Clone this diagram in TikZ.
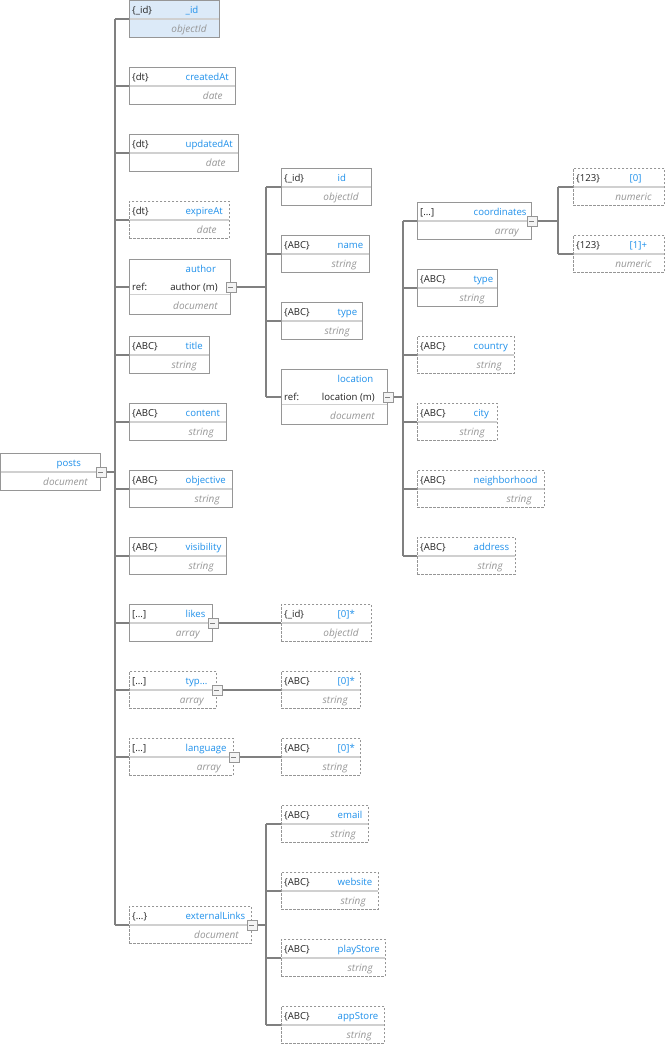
\documentclass[tikz,border=0pt]{standalone}
\usepackage{fontspec}
\setmainfont{Open Sans}
\definecolor{boxc}{RGB}{150,150,150}
\definecolor{divc}{RGB}{208,208,208}
\definecolor{connc}{RGB}{128,128,128}
\definecolor{namec}{RGB}{30,144,235}
\definecolor{typec}{RGB}{150,150,150}
\definecolor{labelc}{RGB}{34,34,34}
\definecolor{idfill}{RGB}{220,234,248}
\definecolor{btnfill}{RGB}{244,244,244}
\tikzset{
  fieldframe/.style={draw=boxc, line width=0.9pt, fill=white, inner sep=0pt},
  opt/.style={dash pattern=on 2.5pt off 1.5pt},
  keyfill/.style={fill=idfill},
  divider/.style={draw=divc, line width=1.4pt},
  lbl/.style={anchor=base west, inner sep=0pt, text=labelc},
  nm/.style={anchor=base west, inner sep=0pt, text=namec},
  tp/.style={anchor=base east, inner sep=0pt, text=typec, font=\itshape},
  reftxt/.style={anchor=base east, inner sep=0pt, text=labelc},
  conn/.style={draw=connc, line width=1.1pt},
  btn/.style={draw=boxc, line width=0.8pt, fill=btnfill, minimum size=10pt, inner sep=0pt,
    path picture={\draw[connc, line width=0.8pt] ([xshift=2.5pt]path picture bounding box.west) -- ([xshift=-2.5pt]path picture bounding box.east);}}
}
\newcommand{\fieldbox}[8]{%
  \pgfmathsetmacro\bw{#5-#3}%
  \node[fieldframe,#2,minimum width=\bw pt,minimum height=37pt,anchor=north west] (#1) at (#3,#4) {};
  \draw[divider] ([yshift=-19pt,xshift=0.6pt]#1.north west) -- ([yshift=-19pt,xshift=-0.6pt]#1.north east);
  \node[lbl] (#1-l) at ([xshift=3pt,yshift=-13.8pt]#1.north west) {#6};
  \node[nm] (#1-n) at ([xshift=56.5pt,yshift=-13.8pt]#1.north west) {#7};
  \node[tp] (#1-t) at ([xshift=-13pt,yshift=5pt]#1.south east) {#8};
}
\newcommand{\refbox}[6]{%
  \pgfmathsetmacro\bw{#4-#2}%
  \node[fieldframe,minimum width=\bw pt,minimum height=55pt,anchor=north west] (#1) at (#2,#3) {};
  \draw[divider] ([yshift=-35.5pt,xshift=0.6pt]#1.north west) -- ([yshift=-35.5pt,xshift=-0.6pt]#1.north east);
  \node[nm] (#1-n) at ([xshift=56.5pt,yshift=-13.8pt]#1.north west) {#5};
  \node[lbl] (#1-l) at ([xshift=3pt,yshift=-31.5pt]#1.north west) {ref:};
  \node[reftxt] (#1-r) at ([xshift=-13pt,yshift=-31.5pt]#1.north east) {#6};
  \node[tp] (#1-t) at ([xshift=-13pt,yshift=5pt]#1.south east) {document};
}
\newcommand{\collapse}[1]{\node[btn] (#1-b) at (#1.east) {};}
\begin{document}
\begin{tikzpicture}[x=1pt,y=-1pt,font=\fontsize{9.6}{11.5}\selectfont]
\useasboundingbox (0,0) rectangle (665,1045);
% level 0
\fieldbox{posts}{}{0}{453}{100}{}{posts}{document}
% level 1
\fieldbox{id0}{keyfill}{129}{0}{219}{\{\_id\}}{\_id}{objectId}
\fieldbox{created}{}{129}{67}{235}{\{dt\}}{createdAt}{date}
\fieldbox{updated}{}{129}{134}{238}{\{dt\}}{updatedAt}{date}
\fieldbox{expire}{opt}{129}{201}{229}{\{dt\}}{expireAt}{date}
\refbox{author}{129}{259}{230}{author}{author (m)}
\fieldbox{title}{}{129}{336}{209}{\{ABC\}}{title}{string}
\fieldbox{content}{}{129}{403}{226}{\{ABC\}}{content}{string}
\fieldbox{objective}{}{129}{470}{232}{\{ABC\}}{objective}{string}
\fieldbox{visibility}{}{129}{537}{226}{\{ABC\}}{visibility}{string}
\fieldbox{likes}{}{129}{604}{212}{[...]}{likes}{array}
\fieldbox{typ}{opt}{129}{671}{216}{[...]}{typ...}{array}
\fieldbox{language}{opt}{129}{738}{233}{[...]}{language}{array}
\fieldbox{ext}{opt}{129}{906}{251}{\{...\}}{externalLinks}{document}
% level 2: author
\fieldbox{aid}{}{281}{168}{371}{\{\_id\}}{id}{objectId}
\fieldbox{aname}{}{281}{235}{369}{\{ABC\}}{name}{string}
\fieldbox{atype}{}{281}{302}{362}{\{ABC\}}{type}{string}
\refbox{loc}{281}{369}{387}{location}{location (m)}
% level 2: arrays
\fieldbox{likes0}{opt}{281}{604}{371}{\{\_id\}}{[0]*}{objectId}
\fieldbox{typ0}{opt}{281}{671}{360}{\{ABC\}}{[0]*}{string}
\fieldbox{lang0}{opt}{281}{738}{360}{\{ABC\}}{[0]*}{string}
% level 2: externalLinks
\fieldbox{email}{opt}{281}{805}{368}{\{ABC\}}{email}{string}
\fieldbox{website}{opt}{281}{872}{378}{\{ABC\}}{website}{string}
\fieldbox{play}{opt}{281}{939}{385}{\{ABC\}}{playStore}{string}
\fieldbox{app}{opt}{281}{1006}{384}{\{ABC\}}{appStore}{string}
% level 3: location
\fieldbox{coord}{}{417}{202}{531}{[...]}{coordinates}{array}
\fieldbox{ltype}{}{417}{269}{497}{\{ABC\}}{type}{string}
\fieldbox{country}{opt}{417}{336}{514}{\{ABC\}}{country}{string}
\fieldbox{city}{opt}{417}{403}{497}{\{ABC\}}{city}{string}
\fieldbox{neigh}{opt}{417}{470}{544}{\{ABC\}}{neighborhood}{string}
\fieldbox{address}{opt}{417}{537}{515}{\{ABC\}}{address}{string}
% level 4: coordinates
\fieldbox{c0}{opt}{573}{168}{664}{\{123\}}{[0]}{numeric}
\fieldbox{c1}{opt}{573}{235}{664}{\{123\}}{[1]+}{numeric}
% trunk coordinates
\coordinate (T0) at (115,0);
\coordinate (T1) at (266,0);
\coordinate (T2) at (403,0);
\coordinate (T3) at (558,0);
% connectors: posts
\foreach \c in {id0,created,updated,expire,author,title,content,objective,visibility,likes,typ,language,ext}
  \draw[conn] (\c.west) -- (\c.west -| T0);
\draw[conn] (T0 |- id0.west) -- (T0 |- ext.west);
\draw[conn] (posts.east) -- (posts.east -| T0);
% author
\foreach \c in {aid,aname,atype,loc}
  \draw[conn] (\c.west) -- (\c.west -| T1);
\draw[conn] (T1 |- aid.west) -- (T1 |- loc.west);
\draw[conn] (author.east) -- (author.east -| T1);
% location
\foreach \c in {coord,ltype,country,city,neigh,address}
  \draw[conn] (\c.west) -- (\c.west -| T2);
\draw[conn] (T2 |- coord.west) -- (T2 |- address.west);
\draw[conn] (loc.east) -- (loc.east -| T2);
% coordinates
\foreach \c in {c0,c1}
  \draw[conn] (\c.west) -- (\c.west -| T3);
\draw[conn] (T3 |- c0.west) -- (T3 |- c1.west);
\draw[conn] (coord.east) -- (coord.east -| T3);
% arrays
\draw[conn] (likes.east) -- (likes0.west);
\draw[conn] (typ.east) -- (typ0.west);
\draw[conn] (language.east) -- (lang0.west);
% externalLinks
\foreach \c in {email,website,play,app}
  \draw[conn] (\c.west) -- (\c.west -| T1);
\draw[conn] (T1 |- email.west) -- (T1 |- app.west);
\draw[conn] (ext.east) -- (ext.east -| T1);
% collapse buttons
\collapse{posts}
\collapse{author}
\collapse{loc}
\collapse{coord}
\collapse{likes}
\collapse{typ}
\collapse{language}
\collapse{ext}
\end{tikzpicture}
\end{document}
